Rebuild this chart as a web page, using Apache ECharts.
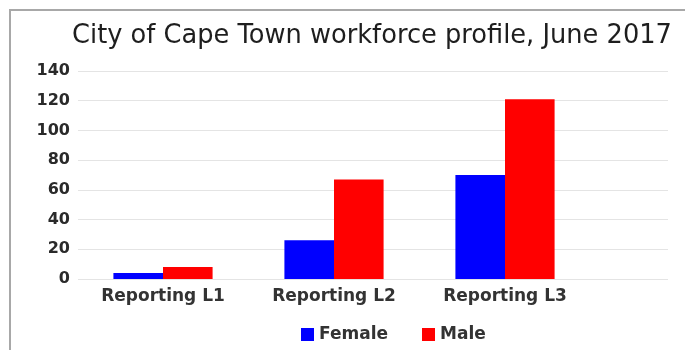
<!DOCTYPE html>
<html>
<head>
<meta charset="utf-8">
<script src="https://cdn.jsdelivr.net/npm/echarts@6/dist/echarts.min.js"></script>
<style>html,body{margin:0;padding:0;background:#fff;}#c{width:685px;height:350px;}</style>
</head>
<body>
<div id="c"></div>
<script>
var titleText = 'City of Cape Town workforce profile, June 2017';
var categories = ['Reporting L1', 'Reporting L2', 'Reporting L3'];
var femaleValues = [4, 26, 70];
var maleValues = [8, 67, 121];
var seriesNames = ['Female', 'Male'];
var yTicks = [0, 20, 40, 60, 80, 100, 120, 140];

var FONT = 'DejaVu Sans';
var chart = echarts.init(document.getElementById('c'), null, {renderer: 'canvas'});
var option = {
  animation: false,
  backgroundColor: '#fff',
  graphic: [{
    type: 'rect', shape: {x: 10, y: 10, width: 700, height: 400},
    style: {fill: 'none', stroke: '#a8a8a8', lineWidth: 2}, z: -10
  }],
  title: {
    text: titleText, left: 367, top: 18, textAlign: 'center',
    textStyle: {fontFamily: FONT, fontSize: 25.7, fontWeight: 'normal', color: '#1e1e1e'}
  },
  legend: {
    data: seriesNames, top: 321, left: 296, itemWidth: 13, itemHeight: 13, itemGap: 34,
    icon: 'rect',
    textStyle: {fontFamily: FONT, fontSize: 17, fontWeight: 'bold', color: '#333'}
  },
  grid: [
    {left: 78, right: 17, top: 71, bottom: 71},
    {left: 77.5, width: 513, top: 71, bottom: 71}
  ],
  xAxis: [
    {gridIndex: 0, type: 'category', data: categories, show: false},
    {gridIndex: 1, type: 'category', data: categories,
     axisLine: {show: false}, axisTick: {show: false},
     axisLabel: {fontFamily: FONT, fontSize: 17, fontWeight: 'bold', color: '#333', margin: 9}}
  ],
  yAxis: [
    {gridIndex: 0, type: 'value', min: 0, max: 140, interval: 20,
     axisLine: {show: false}, axisTick: {show: false},
     axisLabel: {fontFamily: FONT, fontSize: 16, fontWeight: 'bold', color: '#2a2a2a', margin: 8,
       formatter: function (v) { return yTicks.indexOf(v) >= 0 ? String(v) : ''; }},
     splitLine: {lineStyle: {color: '#e4e4e4', width: 1}}},
    {gridIndex: 1, type: 'value', min: 0, max: 140, interval: 20, show: false, splitLine: {show: false}}
  ],
  series: [
    {name: seriesNames[0], type: 'bar', xAxisIndex: 1, yAxisIndex: 1, data: femaleValues,
     itemStyle: {color: '#0000ff'}, barGap: '0%', barCategoryGap: '42%'},
    {name: seriesNames[1], type: 'bar', xAxisIndex: 1, yAxisIndex: 1, data: maleValues,
     itemStyle: {color: '#ff0000'}, barGap: '0%', barCategoryGap: '42%'}
  ]
};
chart.setOption(option);
</script>
</body>
</html>
